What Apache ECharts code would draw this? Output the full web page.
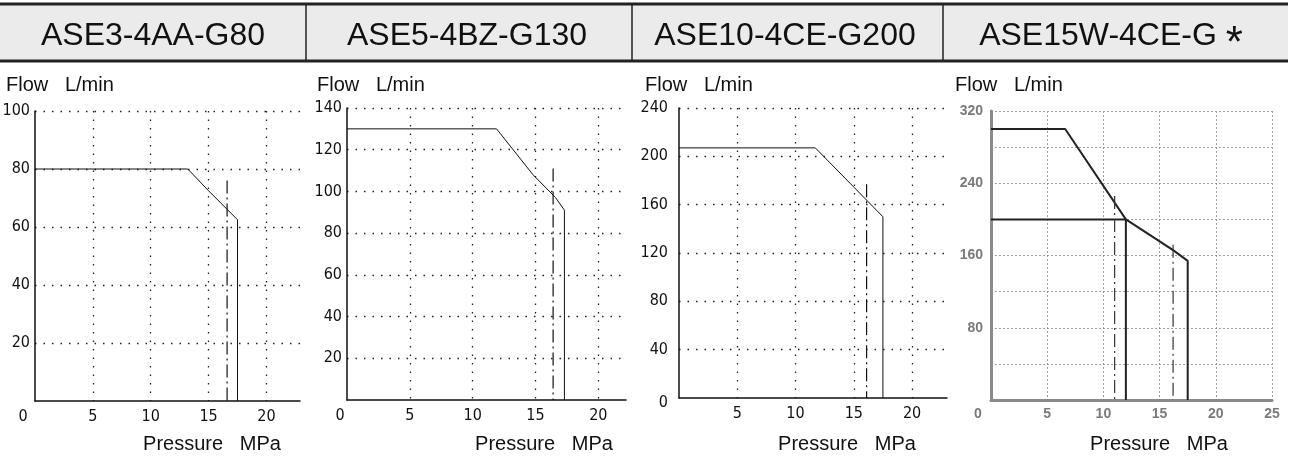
<!DOCTYPE html>
<html><head><meta charset="utf-8">
<script src="https://cdn.jsdelivr.net/npm/echarts@6/dist/echarts.min.js"></script>
<style>html,body{margin:0;padding:0;background:#fff}#c{width:1297px;height:469px}</style>
</head><body><div id="c"></div>
<script>
// ---- data ----
const headers = ['ASE3-4AA-G80', 'ASE5-4BZ-G130', 'ASE10-4CE-G200', 'ASE15W-4CE-G'];
const headerMark = ['', '', '', '*'];
const yTitle = 'Flow   L/min';
const xTitle = 'Pressure   MPa';
const xMax = [22.9, 22.2, 23, 25];
const xStep = [5, 5, 5, 5];
const yMax = [100, 140, 240, 320];
const yStep = [20, 20, 40, 40];
const yLabelStep = [20, 20, 40, 80];

const p1Curve = [[0, 80], [13.2, 80], [15, 72.5], [17.5, 62.5], [17.5, 0]];
const p1Limit = [[16.6, 76], [16.6, 0]];
const p2Curve = [[0, 130], [11.9, 130], [14.8, 108], [16.6, 97], [17.3, 91], [17.3, 0]];
const p2Limit = [[16.4, 111], [16.4, 0]];
const p3Curve = [[0, 207], [11.7, 207], [17.5, 150], [17.5, 0]];
const p3Limit = [[16.1, 177], [16.1, 0]];
const p4Curve = [[0, 300], [6.6, 300], [12, 200], [16.2, 166], [17.5, 154], [17.5, 0]];
const p4Branch = [[0, 200], [12, 200], [12, 0]];
const p4LimitA = [[11, 226], [11, 0]];
const p4LimitB = [[16.2, 172], [16.2, 0]];

// ---- layout ----
const grids = [
  {left: 35, top: 111, width: 265, height: 290},
  {left: 347, top: 108, width: 279, height: 292},
  {left: 679, top: 108, width: 268, height: 290},
  {left: 991, top: 111, width: 281, height: 289}
];
const dividers = [306, 632, 943];
const headerCenters = [153, 467, 785, 1111];
const yTitleLeft = [6, 317, 645, 955];
const xTitleCenter = [212, 544, 847, 1159];
const zeroShift = [24, 14, 0, 26];

const oldStyle = {color: '#111', fontFamily: 'Liberation Sans Narrow, DejaVu Sans Condensed, sans-serif', fontSize: 16};
const newStyle = {color: '#7a7a7a', fontFamily: 'Liberation Sans, Arial, sans-serif', fontSize: 14, fontWeight: 'bold'};

const xAxes = [], yAxes = [];
for (let i = 0; i < 4; i++) {
  const isNew = i === 3;
  const st = isNew ? newStyle : oldStyle;
  const split = isNew
    ? {show: true, showMinLine: false, showMaxLine: true, lineStyle: {color: '#9a9a9a', type: [2, 2], width: 1}}
    : {show: true, showMinLine: false, showMaxLine: false, lineStyle: {color: '#222', type: [1.5, 7], width: 1.3}};
  const axisLine = {show: true, onZero: false, lineStyle: isNew ? {color: '#8a8a8a', width: 3} : {color: '#111', width: 1.5}};
  xAxes.push({
    type: 'value', gridIndex: i, min: 0, max: xMax[i], interval: xStep[i],
    axisLine, axisTick: {show: false},
    splitLine: Object.assign({}, split, {showMaxLine: isNew}),
    axisLabel: Object.assign({}, st, {
      margin: [8, 8, 8, 7][i],
      showMaxLabel: isNew,
      formatter: v => {
        if (v % xStep[i] !== 0) return '';
        if (v === 0) return i === 2 ? '' : '{z|0}';
        return String(v);
      },
      rich: {z: Object.assign({}, st, {padding: [0, zeroShift[i], 0, 0]})}
    })
  });
  yAxes.push({
    type: 'value', gridIndex: i, min: 0, max: yMax[i], interval: yStep[i],
    axisLine, axisTick: {show: false},
    splitLine: Object.assign({}, split, {showMaxLine: true}),
    axisLabel: Object.assign({}, st, {
      margin: [5, 5, 11, 8][i],
      formatter: v => {
        if (v % yLabelStep[i] !== 0) return '';
        if (v === 0) return i === 2 ? '{z|0}' : '';
        return String(v);
      },
      rich: {z: Object.assign({}, st, {padding: [10, 0, 0, 0]})}
    })
  });
}

function line(data, idx, opts) {
  return Object.assign({
    type: 'line', xAxisIndex: idx, yAxisIndex: idx, data, symbol: 'none',
    animation: false, silent: true,
    lineStyle: {color: '#111', width: 1}
  }, opts || {});
}
const dashDot = [13, 4, 2, 4];
const series = [
  line(p1Curve, 0),
  line(p1Limit, 0, {lineStyle: {color: '#111', width: 1.2, type: dashDot}}),
  line(p2Curve, 1),
  line(p2Limit, 1, {lineStyle: {color: '#111', width: 1.2, type: dashDot}}),
  line(p3Curve, 2),
  line(p3Limit, 2, {lineStyle: {color: '#111', width: 1.2, type: dashDot}}),
  line(p4Curve, 3, {lineStyle: {color: '#222', width: 2}}),
  line(p4Branch, 3, {lineStyle: {color: '#222', width: 2}}),
  line(p4LimitA, 3, {lineStyle: {color: '#333', width: 1.2, type: dashDot}}),
  line(p4LimitB, 3, {lineStyle: {color: '#333', width: 1.2, type: dashDot}})
];

const graphic = [
  {type: 'rect', shape: {x: 0, y: 4, width: 1288, height: 57}, style: {fill: '#ebebeb'}, silent: true},
  {type: 'line', shape: {x1: 0, y1: 4, x2: 1288, y2: 4}, style: {stroke: '#222', lineWidth: 3}, silent: true},
  {type: 'line', shape: {x1: 0, y1: 61, x2: 1288, y2: 61}, style: {stroke: '#222', lineWidth: 3}, silent: true}
];
dividers.forEach(x => graphic.push({type: 'line', shape: {x1: x, y1: 4, x2: x, y2: 61}, style: {stroke: '#222', lineWidth: 1.5}, silent: true}));
const headFont = {fontSize: 32, fontFamily: '"Liberation Sans", Arial, sans-serif', fill: '#111'};
headers.forEach((t, i) => graphic.push({
  type: 'text', x: headerCenters[i], y: 36, silent: true,
  style: {
    text: headerMark[i] ? '{a|' + t + ' }{s|' + headerMark[i] + '}' : '{a|' + t + '}',
    align: 'center', verticalAlign: 'middle',
    rich: {
      a: headFont,
      s: {fontSize: 44, fontFamily: '"Liberation Sans", Arial, sans-serif', fill: '#111', padding: [18, 0, 0, 0]}
    }
  }
}));
for (let i = 0; i < 4; i++) {
  graphic.push({type: 'text', x: yTitleLeft[i], y: 85, style: {text: yTitle, fill: '#111', font: '20px "Liberation Sans", Arial, sans-serif', align: 'left', verticalAlign: 'middle'}, silent: true});
  graphic.push({type: 'text', x: xTitleCenter[i], y: 444, style: {text: xTitle, fill: '#111', font: '20px "Liberation Sans", Arial, sans-serif', align: 'center', verticalAlign: 'middle'}, silent: true});
}

const chart = echarts.init(document.getElementById('c'), null, {renderer: 'canvas'});
chart.setOption({
  animation: false,
  backgroundColor: '#fff',
  grid: grids.map(g => Object.assign({containLabel: false, outerBoundsMode: 'none'}, g)),
  xAxis: xAxes,
  yAxis: yAxes,
  series,
  graphic
});
</script></body></html>
